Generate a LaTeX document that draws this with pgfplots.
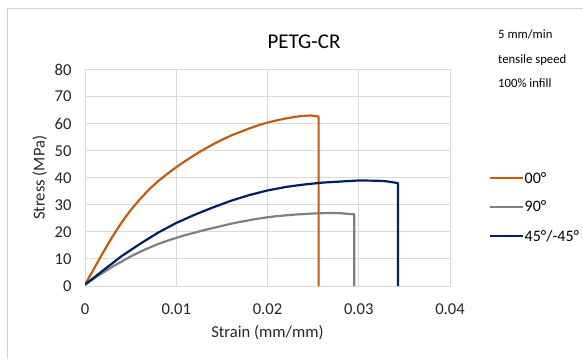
\documentclass[border=0pt]{standalone}
\usepackage{pgfplots}
\pgfplotsset{compat=1.18}
\usepackage{fontspec}
\setmainfont{Carlito}
\definecolor{cOrange}{HTML}{C55A11}
\definecolor{cGray}{HTML}{7F7F7F}
\definecolor{cBlue}{HTML}{002060}
\definecolor{cGrid}{HTML}{D9D9D9}
\begin{document}
\begin{tikzpicture}[x=1bp,y=1bp]
\useasboundingbox (0,0) rectangle (583,359);
\draw[cGrid!90!gray, line width=1bp] (7.5,0) -- (7.5,350) -- (583,350);
\node[font=\fontsize{21bp}{25bp}\selectfont] at (304,317) {PETG-CR};
\node[anchor=west, font=\fontsize{12.7bp}{15bp}\selectfont, inner sep=0pt] at (498,325) {5 mm/min};
\node[anchor=west, font=\fontsize{12.7bp}{15bp}\selectfont, inner sep=0pt] at (498,299) {tensile speed};
\node[anchor=west, font=\fontsize{12.7bp}{15bp}\selectfont, inner sep=0pt] at (498,276) {100\% infill};
\begin{axis}[
  at={(85bp,73bp)}, anchor=south west,
  width=365bp, height=216.5bp, scale only axis,
  xmin=0, xmax=0.04, ymin=0, ymax=80,
  scaled x ticks=false,
  xtick={0,0.01,0.02,0.03,0.04},
  xticklabels={0,0.01,0.02,0.03,0.04},
  ytick={0,10,...,80},
  yticklabels={0,10,20,30,40,50,60,70,80},
  major tick length=0pt,
  grid=major,
  grid style={cGrid, line width=1bp},
  axis line style={cGrid, line width=1bp},
  tick label style={font=\fontsize{16.6bp}{19bp}\selectfont, text=black!85},
  xticklabel style={yshift=-14.5bp},
  yticklabel style={xshift=-10bp},
  xlabel={Strain (mm/mm)},
  ylabel={Stress (MPa)},
  label style={font=\fontsize{16.6bp}{19bp}\selectfont, text=black!85},
  xlabel style={yshift=-4bp},
  ylabel style={yshift=1bp},
  legend style={at={(1.105,0.3635)}, anchor=west, draw=none, fill=none,
    font=\fontsize{16bp}{19bp}\selectfont, row sep=14.5bp, inner sep=0pt,
    nodes={inner sep=1bp}},
  legend cell align=left,
  legend image code/.code={\draw[#1, line width=2.2bp] (0bp,0bp) -- (33bp,0bp);},
  every axis plot/.append style={line width=2.2bp, line join=round},
]
\addplot[cOrange, no markers] coordinates {
(0,0.5) (0.001,6.5) (0.002,12.5) (0.003,18.2) (0.004,23.4) (0.005,28.0)
(0.006,32.0) (0.007,35.6) (0.008,38.7) (0.009,41.4) (0.010,43.9)
(0.011,46.2) (0.012,48.4) (0.013,50.4) (0.014,52.3) (0.015,54.0)
(0.016,55.6) (0.017,56.9) (0.018,58.2) (0.019,59.4) (0.020,60.4)
(0.021,61.2) (0.022,61.9) (0.023,62.5) (0.024,62.9) (0.0248,63.0)
(0.0256,62.6) (0.0256,0)};
\addlegendentry{00°}
\addplot[cGray, no markers] coordinates {
(0,0.5) (0.001,2.8) (0.002,5.0) (0.003,7.1) (0.004,9.0) (0.005,10.9)
(0.006,12.6) (0.007,14.1) (0.008,15.5) (0.009,16.7) (0.010,17.8)
(0.011,18.8) (0.012,19.7) (0.013,20.6) (0.014,21.4) (0.015,22.2)
(0.016,23.0) (0.017,23.7) (0.018,24.3) (0.019,24.9) (0.020,25.4)
(0.021,25.8) (0.022,26.1) (0.023,26.4) (0.024,26.6) (0.025,26.8)
(0.026,26.9) (0.027,27.0) (0.028,26.9) (0.029,26.6) (0.0295,26.5) (0.0295,0)};
\addlegendentry{90°}
\addplot[cBlue, no markers] coordinates {
(0,0.5) (0.002,5.8) (0.004,11.0) (0.006,15.5) (0.008,19.7) (0.010,23.3)
(0.012,26.3) (0.014,29.0) (0.016,31.5) (0.018,33.6) (0.020,35.3)
(0.022,36.6) (0.024,37.5) (0.026,38.2) (0.028,38.6) (0.030,39.0)
(0.032,38.9) (0.033,38.7) (0.0338,38.3) (0.0343,38.0) (0.0343,0)};
\addlegendentry{45°/-45°}
\end{axis}
\end{tikzpicture}
\end{document}
